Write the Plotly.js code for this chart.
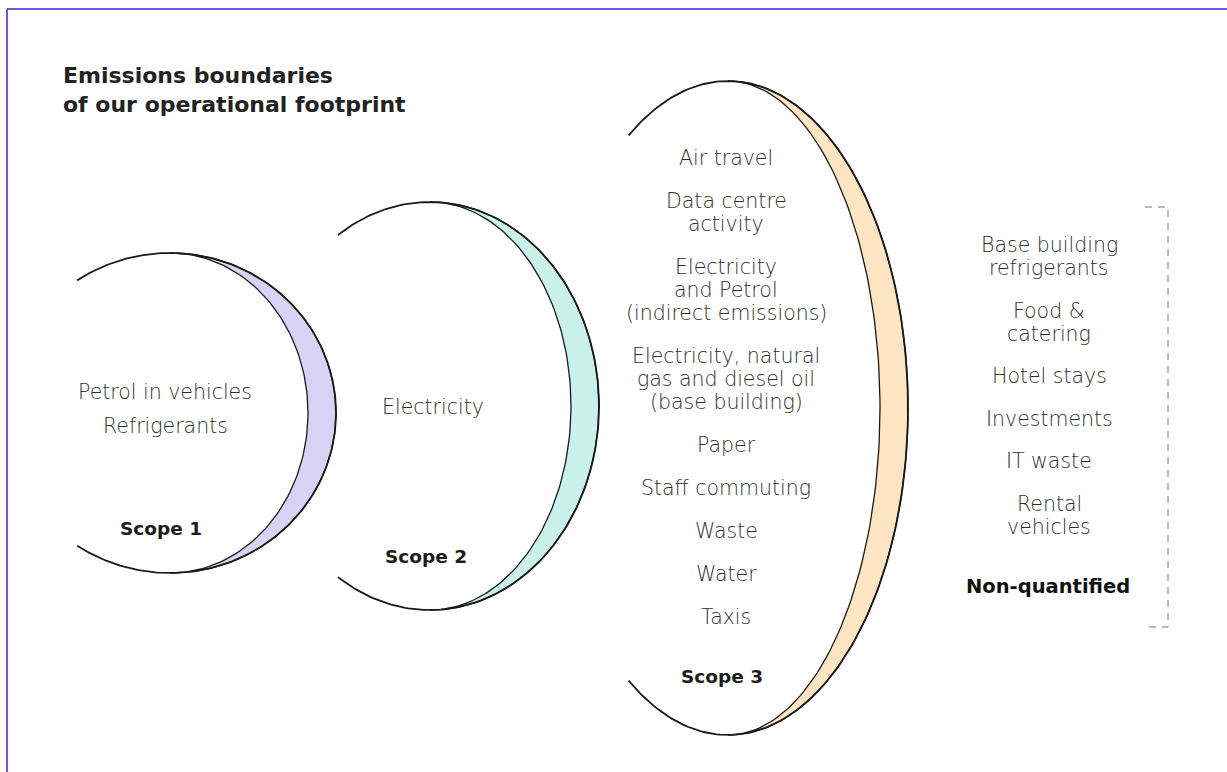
<!DOCTYPE html>
<html>
<head>
<meta charset="utf-8">
<script src="https://cdn.plot.ly/plotly-3.0.1.min.js"></script>
<style>html,body{margin:0;padding:0;background:#fff;}#chart{width:1227px;height:772px;}</style>
</head>
<body>
<div id="chart"></div>
<script>
// ---- content ----
const titleLines = ['Emissions boundaries', 'of our operational footprint'];
const scopeLabels = ['Scope 1', 'Scope 2', 'Scope 3'];
const nonQuantLabel = 'Non-quantified';
const scope1Items = ['Petrol in vehicles', 'Refrigerants'];
const scope2Items = ['Electricity'];
const scope3Items = ['Air travel', 'Data centre\nactivity', 'Electricity\nand Petrol\n(indirect emissions)',
  'Electricity, natural\ngas and diesel oil\n(base building)', 'Paper', 'Staff commuting', 'Waste', 'Water', 'Taxis'];
const nonQuantItems = ['Base building\nrefrigerants', 'Food &\ncatering', 'Hotel stays', 'Investments', 'IT waste', 'Rental\nvehicles'];

// ---- layout / geometry (styling, not data) ----
const W = 1227, H = 772;
const FONT = '"DejaVu Sans", "Open Sans", sans-serif';
const ITEM_COLOR = '#2e2e2e', LABEL_COLOR = '#1c1c1c';
const scopes = [
  {cx: 170, cy: 413, ry: 160, rxOut: 166, rxIn: 138, ext: 124, fill: '#d8d3f5', items: scope1Items, tx: 165, ty0: 392, gap: 34, lab: [161, 528]},
  {cx: 430, cy: 406, ry: 204, rxOut: 169, rxIn: 141, ext: 123, fill: '#c9f1ea', items: scope2Items, tx: 433, ty0: 407, gap: 43, lab: [426, 556]},
  {cx: 728, cy: 408, ry: 327, rxOut: 180, rxIn: 152, ext: 123.5, fill: '#fde4c2', items: scope3Items, tx: 726, ty0: 158, gap: 43, lab: [722, 676]}
];
const nq = {tx: 1049, ty0: 245, gap: 42.5, lab: [1048, 586]};
const LINE_H = 23;

function arc(cx, cy, rx, ry, a0, a1, n) {
  const xs = [], ys = [];
  for (let i = 0; i <= n; i++) {
    const t = (a0 + (a1 - a0) * i / n) * Math.PI / 180;
    xs.push(cx + rx * Math.cos(t));
    ys.push(cy + ry * Math.sin(t));
  }
  return {xs, ys};
}

const traces = [];
const annotations = [];

function addItems(items, tx, ty0, gap) {
  let y = ty0;
  items.forEach(it => {
    const lines = it.split('\n');
    lines.forEach((ln, k) => {
      annotations.push({x: tx, y: y + k * LINE_H, xref: 'x', yref: 'y', text: ln, showarrow: false,
        xanchor: 'center', yanchor: 'middle', borderpad: 0,
        font: {family: FONT, size: 20.5, color: ITEM_COLOR, weight: 300}});
    });
    y += (lines.length - 1) * LINE_H + gap;
  });
}

scopes.forEach((s, i) => {
  const o = arc(s.cx, s.cy, s.rxOut, s.ry, -90, 90, 120);
  const inn = arc(s.cx, s.cy, s.rxIn, s.ry, 90, -90, 120);
  traces.push({x: o.xs.concat(inn.xs), y: o.ys.concat(inn.ys), mode: 'lines', fill: 'toself',
    fillcolor: s.fill, line: {color: '#1a1a1a', width: 1.3}, hoverinfo: 'skip', showlegend: false});
  const full = arc(s.cx, s.cy, s.rxOut, s.ry, -s.ext, s.ext, 240);
  traces.push({x: full.xs, y: full.ys, mode: 'lines', line: {color: '#1a1a1a', width: 1.8},
    hoverinfo: 'skip', showlegend: false});
  addItems(s.items, s.tx, s.ty0, s.gap);
  annotations.push({x: s.lab[0], y: s.lab[1], xref: 'x', yref: 'y', text: scopeLabels[i], showarrow: false,
    xanchor: 'center', yanchor: 'middle', font: {family: FONT, size: 18.5, color: LABEL_COLOR, weight: 700}});
});

addItems(nonQuantItems, nq.tx, nq.ty0, nq.gap);
annotations.push({x: nq.lab[0], y: nq.lab[1], xref: 'x', yref: 'y', text: nonQuantLabel, showarrow: false,
  xanchor: 'center', yanchor: 'middle', font: {family: FONT, size: 19.5, color: '#111', weight: 700}});

traces.push({x: [1145, 1168, 1168, 1145], y: [207, 207, 627, 627], mode: 'lines',
  line: {color: '#777', width: 1, dash: '7px,6px'}, hoverinfo: 'skip', showlegend: false});

titleLines.forEach((t, k) => {
  annotations.push({x: 61, y: 75 + k * 29, xref: 'x', yref: 'y', text: t, showarrow: false,
    xanchor: 'left', yanchor: 'middle', font: {family: FONT, size: 22, color: '#222', weight: 700}});
});

const layout = {
  width: W, height: H, margin: {l: 0, r: 0, t: 0, b: 0},
  paper_bgcolor: '#fff', plot_bgcolor: '#fff', showlegend: false,
  xaxis: {range: [0, W], visible: false, fixedrange: true},
  yaxis: {range: [H, 0], visible: false, fixedrange: true},
  annotations: annotations,
  shapes: [
    {type: 'line', xref: 'x', yref: 'y', x0: 7, y0: 9, x1: W, y1: 9, line: {color: '#7b52dc', width: 2}},
    {type: 'line', xref: 'x', yref: 'y', x0: 7, y0: 9, x1: 7, y1: H, line: {color: '#7b52dc', width: 2}}
  ]
};
Plotly.newPlot('chart', traces, layout, {staticPlot: true, displayModeBar: false});
</script>
</body>
</html>
